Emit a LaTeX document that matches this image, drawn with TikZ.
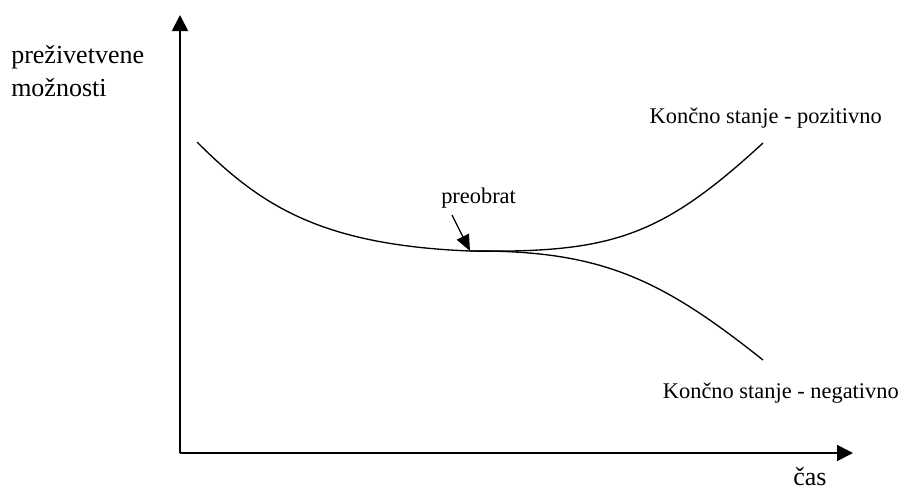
\documentclass[tikz,border=0pt]{standalone}
\usepackage{fontspec}
\setmainfont{Liberation Serif}
\usetikzlibrary{positioning, arrows.meta}

\begin{document}
\begin{tikzpicture}[
    x=0.75pt, y=-0.75pt,
    axis/.style={line width=1.3pt, -{Triangle[length=12pt, width=12pt]}},
    curve/.style={line width=1pt},
    pointer/.style={line width=1pt, -{Triangle[length=12pt, width=10pt]}},
    biglabel/.style={inner sep=0pt, font=\fontsize{19.5}{22}\selectfont},
    smalllabel/.style={inner sep=0pt, font=\fontsize{16.8}{19}\selectfont}
]
\useasboundingbox (0,0) rectangle (901,493);

% Nodes
\coordinate (origin) at (180,453);
\coordinate (ytip) at (180,15);
\coordinate (xtip) at (853,453);
\coordinate (start) at (197,142);
\coordinate (turn) at (470,251);
\coordinate (tail) at (452,215);
\coordinate (posend) at (763,143);
\coordinate (negend) at (763,360);
\node[biglabel, anchor=base west] (ylab) at (11,63) {preživetvene};
\node[biglabel, anchor=base west] (ylab2) at (11,96) {možnosti};
\node[biglabel, anchor=base] (xlab) at (810,485) {čas};
\node[smalllabel, anchor=base west] (turnlab) at (441,203) {preobrat};
\node[smalllabel, anchor=base east] (poslab) at (882,123) {Končno stanje - pozitivno};
\node[smalllabel, anchor=base east] (neglab) at (899,398) {Končno stanje - negativno};

% Axes
\draw[axis] (origin) -- (ytip);
\draw[axis] (origin) -- (xtip);

% Curves
\draw[curve] (start) .. controls (260,205) and (320,245) .. (turn);
\draw[curve] (turn) .. controls (610,253) and (660,238) .. (posend);
\draw[curve] (turn) .. controls (600,250) and (660,278) .. (negend);

% Arrows
\draw[pointer] (tail) -- (turn);

\end{tikzpicture}
\end{document}
